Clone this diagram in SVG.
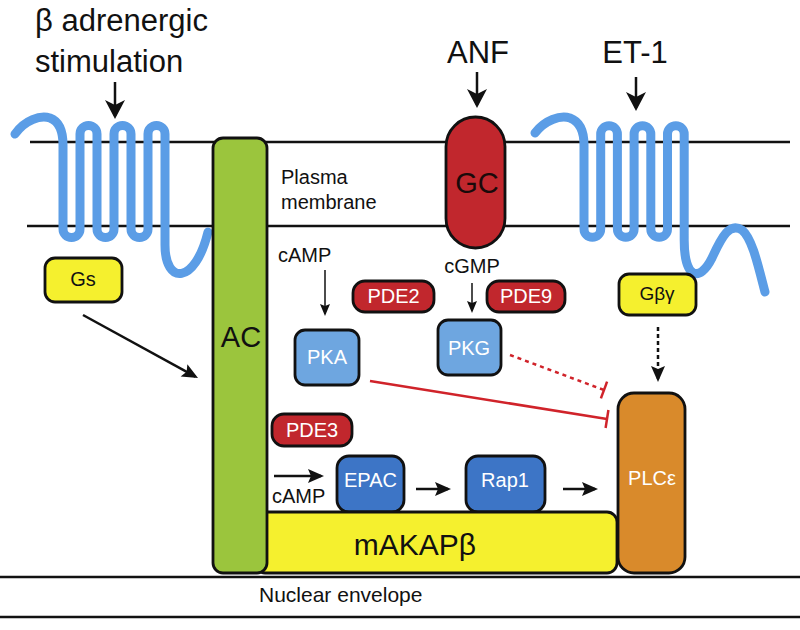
<svg xmlns="http://www.w3.org/2000/svg" width="800" height="630" viewBox="0 0 800 630">
<style>
text{font-family:"Liberation Sans",Arial,Helvetica,sans-serif;}
.mem{stroke:#111;stroke-width:2.5;fill:none;}
.gpcr{stroke:#5b9de6;stroke-width:9;fill:none;stroke-linejoin:round;stroke-linecap:round;}
.box{stroke:#111;stroke-width:2.8;}
.arr{stroke:#111;stroke-width:2.5;fill:none;}
.thin{stroke:#111;stroke-width:1.5;fill:none;}
.inh{stroke:#d0232a;stroke-width:2.5;fill:none;}
.lbl{font-size:20px;fill:#111;}
.wlbl{font-size:20px;fill:#fff;text-anchor:middle;}
.big{font-size:31px;fill:#111;}
</style>
<defs>
<marker id="bigHead" markerUnits="userSpaceOnUse" viewBox="-2 -12 24 24" markerWidth="24" markerHeight="24" refX="16" refY="0" orient="auto">
<path d="M0,-10 L19,0 L0,10 L5,0 Z" fill="#111"/>
</marker>
<marker id="medHead" markerUnits="userSpaceOnUse" viewBox="-2 -9 20 18" markerWidth="20" markerHeight="18" refX="13" refY="0" orient="auto">
<path d="M0,-7 L16,0 L0,7 L3,0 Z" fill="#111"/>
</marker>
<marker id="smallHead" markerUnits="userSpaceOnUse" viewBox="-2 -7 16 14" markerWidth="16" markerHeight="14" refX="10" refY="0" orient="auto">
<path d="M0,-5 L12,0 L0,5 L2,0 Z" fill="#111"/>
</marker>
</defs>

<g id="membranes">
<line class="mem" x1="30" y1="142" x2="790" y2="142"/>
<line class="mem" x1="27" y1="226" x2="790" y2="226"/>
<line class="mem" x1="0" y1="577" x2="800" y2="577"/>
<line class="mem" x1="0" y1="617" x2="800" y2="617"/>
</g>

<g id="labels-top">
<text class="big" x="35" y="31">β adrenergic</text>
<text class="big" x="35" y="72">stimulation</text>
<text class="big" x="478" y="63" text-anchor="middle">ANF</text>
<text class="big" x="635" y="63" text-anchor="middle">ET-1</text>
<text class="lbl" x="281" y="184">Plasma</text>
<text class="lbl" x="281" y="209">membrane</text>
<text class="lbl" x="259" y="602" style="font-size:21px">Nuclear envelope</text>
<text class="lbl" x="278" y="262">cAMP</text>
<text class="lbl" x="472" y="273" text-anchor="middle">cGMP</text>
<text class="lbl" x="272" y="503">cAMP</text>
</g>

<g id="beta-receptor">
<path class="gpcr" d="M15,134 C25,120 40,115 50,118 C58,121 63,129 63,145 L63,229 A8.5,8.5 0 0 0 80,229 L80,134 A8.5,8.5 0 0 1 97,134 L97,229 A8.5,8.5 0 0 0 114,229 L114,134 A8.5,8.5 0 0 1 131,134 L131,229 A8.5,8.5 0 0 0 148,229 L148,134 A8.5,8.5 0 0 1 165,134 L165,245 C165,285 195,285 208,232"/>
</g>

<g id="et-receptor">
<path class="gpcr" d="M535,133 C545,120 560,115 570,118 C578,121 584,129 584,145 L584,229 A8.35,8.35 0 0 0 600.7,229 L600.7,134 A8.35,8.35 0 0 1 617.4,134 L617.4,229 A8.35,8.35 0 0 0 634.1,229 L634.1,134 A8.35,8.35 0 0 1 650.8,134 L650.8,229 A8.35,8.35 0 0 0 667.5,229 L667.5,134 A8.35,8.35 0 0 1 684.2,134 L684.2,240 C684.2,280 700,282 712,258 C722,236 730,222 742,230 C752,238 758,265 765,292"/>
</g>

<g id="connectors">
<line class="arr" x1="115" y1="82" x2="115" y2="116" marker-end="url(#bigHead)"/>
<line class="arr" x1="477" y1="72" x2="477" y2="105" marker-end="url(#bigHead)"/>
<line class="arr" x1="636" y1="77" x2="636" y2="108" marker-end="url(#bigHead)"/>
<line class="arr" x1="83" y1="315" x2="195.4" y2="376.6" marker-end="url(#medHead)"/>
<line class="thin" x1="325" y1="270" x2="325" y2="314" marker-end="url(#smallHead)"/>
<line class="thin" x1="472" y1="283" x2="472" y2="311" marker-end="url(#smallHead)"/>
<line class="arr" x1="274" y1="476" x2="321" y2="476" marker-end="url(#medHead)"/>
<line class="arr" x1="416" y1="489" x2="448" y2="489" marker-end="url(#medHead)"/>
<line class="arr" x1="563" y1="489" x2="595" y2="489" marker-end="url(#medHead)"/>
<line class="arr" x1="658" y1="327" x2="658" y2="379" stroke-dasharray="4,3" marker-end="url(#medHead)"/>
<line class="inh" x1="370" y1="381" x2="607" y2="419"/>
<line class="inh" x1="608.4" y1="410" x2="605.6" y2="428"/>
<line class="inh" x1="510" y1="355" x2="604" y2="390" stroke-dasharray="4,4"/>
<line class="inh" x1="607.1" y1="381.6" x2="600.9" y2="398.4"/>
</g>

<g id="EPAC">
<rect class="box" x="337" y="456" width="67" height="56" rx="12" fill="#3d75c6"/>
<text class="wlbl" x="370.5" y="487">EPAC</text>
</g>
<g id="Rap1">
<rect class="box" x="466" y="456" width="79" height="56" rx="12" fill="#3d75c6"/>
<text class="wlbl" x="505" y="487">Rap1</text>
</g>

<g id="mAKAPb">
<rect class="box" x="255" y="512" width="362" height="61" rx="10" fill="#f5f02e"/>
<text x="415" y="555" text-anchor="middle" style="font-size:30px;fill:#111">mAKAPβ</text>
</g>

<g id="AC">
<rect class="box" x="213" y="138" width="54" height="435" rx="10" fill="#9bc53d"/>
<text x="241" y="347" text-anchor="middle" style="font-size:29px;fill:#111">AC</text>
</g>

<g id="GC">
<rect class="box" x="446" y="117" width="59" height="131" rx="29.5" fill="#c1272d"/>
<text x="477" y="193" text-anchor="middle" style="font-size:29px;fill:#1a0a0a">GC</text>
</g>

<g id="PLCe">
<rect class="box" x="618" y="393" width="67" height="180" rx="16" fill="#d98a2b"/>
<text class="wlbl" x="652" y="485">PLCε</text>
</g>

<g id="Gs">
<rect class="box" x="45" y="258" width="77" height="44" rx="10" fill="#f5f02e"/>
<text class="lbl" x="83" y="286" text-anchor="middle">Gs</text>
</g>

<g id="Gbg">
<rect class="box" x="619" y="274" width="77" height="41" rx="10" fill="#f5f02e"/>
<text class="lbl" x="657" y="300" text-anchor="middle" style="font-size:19px">Gβγ</text>
</g>

<g id="PDE2">
<rect class="box" x="353" y="281" width="81" height="31" rx="12" fill="#c1272d"/>
<text class="wlbl" x="393.5" y="303">PDE2</text>
</g>
<g id="PDE9">
<rect class="box" x="487" y="281" width="78" height="31" rx="12" fill="#c1272d"/>
<text class="wlbl" x="526" y="303">PDE9</text>
</g>
<g id="PDE3">
<rect class="box" x="272" y="414" width="80" height="32" rx="12" fill="#c1272d"/>
<text class="wlbl" x="312" y="437">PDE3</text>
</g>

<g id="PKA">
<rect class="box" x="295" y="330" width="64" height="55" rx="10" fill="#6ea6e0"/>
<text class="wlbl" x="327" y="364">PKA</text>
</g>
<g id="PKG">
<rect class="box" x="438" y="320" width="63" height="55" rx="10" fill="#6ea6e0"/>
<text class="wlbl" x="469" y="355">PKG</text>
</g>
</svg>
